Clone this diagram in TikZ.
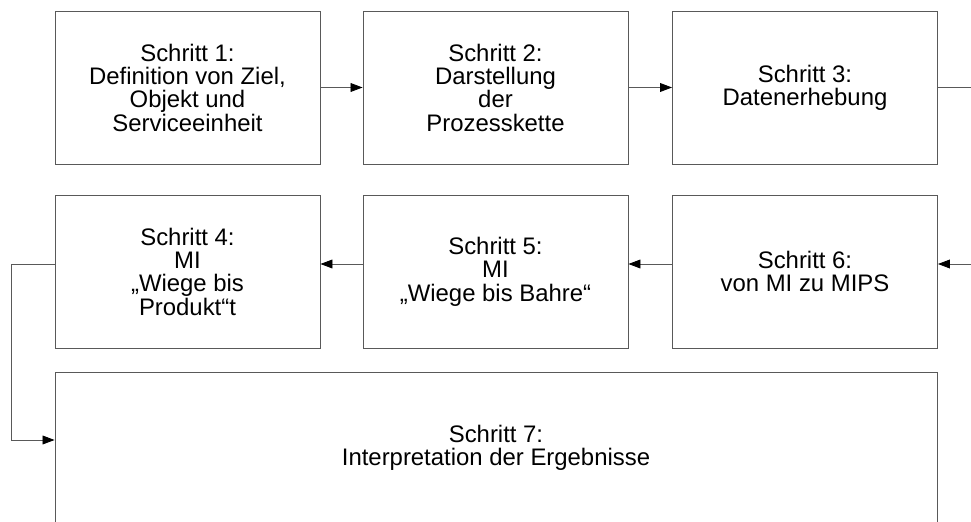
\documentclass[tikz,border=0pt]{standalone}
\usepackage{fontspec}
\setmainfont{Liberation Sans}
\usetikzlibrary{arrows.meta}

\begin{document}
\begin{tikzpicture}[x=0.25mm,y=-0.25mm,
		box/.style={draw=black!65,line width=0.6pt,minimum width=66.25mm,minimum height=38.25mm,inner sep=0pt,align=center,font=\fontsize{17}{16.6}\selectfont},
		flow/.style={draw=black!65,line width=0.6pt,-{Triangle[length=3mm,width=2.2mm,color=black]}},
		link/.style={draw=black!65,line width=0.6pt}]
			\clip (0,0) rectangle (971,522);

			\node[box] (s1) at (187.5,87.5) {Schritt 1:\\Definition von Ziel,\\Objekt und\\Serviceeinheit};
			\node[box] (s2) at (495.5,87.5) {Schritt 2:\\Darstellung\\der\\Prozesskette};
			\node[box] (s3) at (805,87.5) {Schritt 3:\\Datenerhebung};

			\node[box] (s4) at (187.5,271.5) {Schritt 4:\\MI\\„Wiege bis\\Produkt“t};
			\node[box] (s5) at (495.5,271.5) {Schritt 5:\\MI\\„Wiege bis Bahre“};
			\node[box] (s6) at (805,271.5) {Schritt 6:\\von MI zu MIPS};

			\node[box,minimum width=220.5mm,minimum height=38mm] (s7) at (496,448) {Schritt 7:\\Interpretation der Ergebnisse};

			\coordinate (out1) at (971,87.5);
			\coordinate (in2) at (971,264);
			\coordinate (back1) at (11,264);
			\coordinate (back2) at (11,440);

			\draw[flow] (s1) -- (s2);
			\draw[flow] (s2) -- (s3);
			\draw[link] (s3) -- (out1);

			\draw[flow] (in2) -- (s6.east |- in2);
			\draw[flow] (s6.west |- in2) -- (s5.east |- in2);
			\draw[flow] (s5.west |- in2) -- (s4.east |- in2);

			\draw[flow] (s4.west |- back1) -- (back1) -- (back2) -- (s7.west |- back2);
		\end{tikzpicture}
\end{document}
